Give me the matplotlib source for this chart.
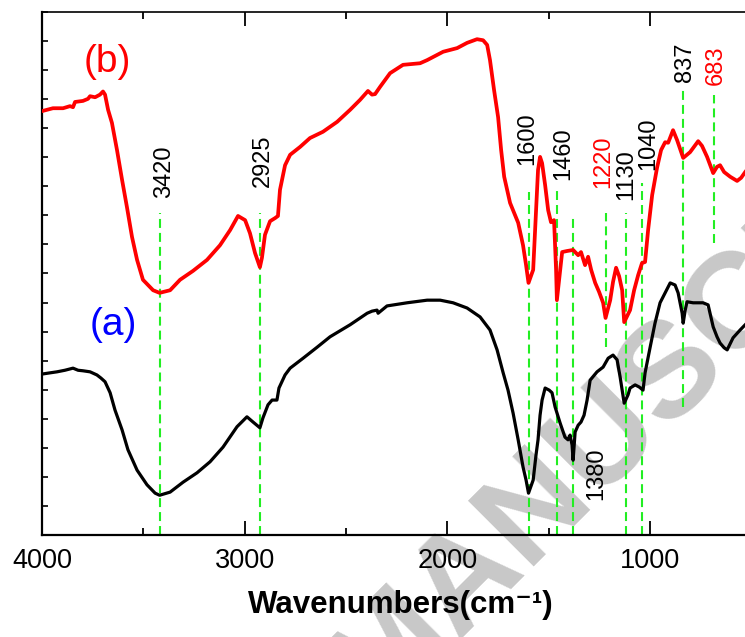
import numpy as np
import matplotlib.pyplot as plt

plt.rcParams['font.family'] = ['Liberation Sans', 'DejaVu Sans']

# spectrum (b), red
wn_b = [3995, 3946, 3896, 3862, 3847, 3837, 3798, 3773, 3763, 3738, 3714, 3699, 3689, 3674,
        3655, 3630, 3605, 3581, 3556, 3531, 3502, 3452, 3420, 3368, 3319, 3255, 3186, 3122,
        3072, 3033, 2998, 2974, 2949, 2925, 2915, 2900, 2875, 2850, 2836, 2826, 2801, 2776,
        2727, 2678, 2614, 2544, 2480, 2431, 2392, 2372, 2357, 2332, 2283, 2219, 2135, 2100,
        2021, 1952, 1903, 1854, 1824, 1804, 1790, 1770, 1750, 1735, 1720, 1691, 1651, 1627,
        1612, 1600, 1577, 1563, 1553, 1543, 1533, 1518, 1503, 1489, 1474, 1464, 1460, 1449,
        1434, 1410, 1380, 1355, 1341, 1321, 1306, 1291, 1271, 1252, 1232, 1220, 1197, 1183,
        1168, 1153, 1138, 1128, 1099, 1079, 1059, 1040, 1025, 1010, 990, 966, 946, 926, 911,
        887, 867, 847, 837, 803, 763, 744, 719, 689, 670, 655, 635, 605, 571, 551, 531]
tr_b = [81.1, 81.6, 81.6, 82.0, 81.8, 82.8, 83.0, 83.4, 83.9, 83.7, 84.2, 84.8, 84.2, 81.3,
        78.8, 73.6, 67.9, 62.7, 57.0, 52.6, 48.8, 46.8, 46.3, 46.8, 48.8, 50.5, 52.6, 55.4,
        58.3, 61.0, 60.2, 57.7, 53.9, 51.2, 53.0, 57.4, 60.0, 60.6, 61.0, 66.0, 70.7, 72.7,
        74.2, 75.9, 77.1, 79.0, 81.3, 83.2, 84.9, 84.2, 84.3, 85.7, 88.3, 89.9, 90.2, 90.8,
        92.4, 93.1, 94.1, 94.8, 94.6, 93.7, 90.8, 85.1, 79.9, 73.6, 68.5, 63.5, 59.7, 55.4,
        51.6, 48.2, 50.7, 62.1, 69.8, 72.3, 71.1, 66.9, 62.1, 59.8, 60.2, 50.7, 44.9, 48.8,
        54.1, 54.3, 54.5, 53.5, 54.1, 51.6, 53.2, 50.7, 48.2, 46.5, 44.4, 41.5, 44.9, 48.4,
        51.1, 49.5, 46.8, 40.7, 43.0, 46.8, 49.7, 52.0, 52.2, 58.3, 65.0, 70.2, 73.6, 75.1, 75.0,
        77.4, 75.5, 73.2, 72.1, 73.2, 75.3, 74.4, 72.3, 69.2, 70.4, 70.7, 69.4, 68.5, 67.7, 68.3, 69.4]

# spectrum (a), black
wn_a = [3995, 3961, 3926, 3887, 3847, 3822, 3798, 3763, 3729, 3709, 3689, 3664, 3640, 3605,
        3576, 3531, 3482, 3442, 3420, 3368, 3304, 3235, 3171, 3107, 3038, 2989, 2959, 2925,
        2910, 2885, 2865, 2841, 2831, 2801, 2776, 2712, 2643, 2579, 2480, 2396, 2372, 2347,
        2342, 2298, 2199, 2100, 2036, 1972, 1903, 1839, 1790, 1755, 1725, 1701, 1676, 1651,
        1627, 1612, 1600, 1577, 1563, 1553, 1543, 1533, 1518, 1498, 1484, 1469, 1444, 1420,
        1405, 1395, 1385, 1380, 1370, 1355, 1341, 1326, 1311, 1296, 1262, 1232, 1207, 1183,
        1163, 1148, 1138, 1128, 1109, 1099, 1074, 1054, 1035, 1025, 1000, 976, 951, 926, 901,
        877, 862, 842, 837, 827, 818, 788, 739, 714, 689, 670, 655, 635, 620, 591, 556, 531]
tr_a = [30.8, 31.0, 31.2, 31.5, 31.9, 31.5, 31.4, 31.2, 30.6, 30.0, 29.3, 27.2, 23.9, 20.1,
        16.3, 12.4, 9.6, 8.0, 7.6, 8.2, 10.1, 11.9, 14.0, 16.8, 20.7, 22.6, 21.6, 20.5,
        22.4, 24.9, 25.8, 25.8, 28.1, 30.6, 31.9, 33.8, 35.9, 37.9, 40.2, 42.4, 42.8, 43.0,
        42.4, 43.8, 44.4, 44.9, 44.9, 44.4, 43.4, 41.7, 39.2, 35.4, 31.0, 27.7, 23.3, 18.2,
        13.0, 10.5, 8.0, 10.5, 15.3, 18.2, 22.9, 25.8, 28.1, 27.7, 27.2, 24.5, 21.4, 18.7,
        18.2, 19.1, 17.2, 14.3, 19.7, 21.0, 21.6, 22.9, 25.8, 29.6, 31.2, 32.1, 33.8, 34.4,
        33.5, 30.2, 27.7, 25.2, 26.8, 28.1, 28.7, 28.3, 27.7, 31.0, 35.9, 40.5, 44.4, 46.3, 48.2,
        47.8, 46.3, 42.4, 40.5, 43.0, 44.6, 44.4, 44.4, 44.0, 39.8, 37.9, 36.7, 35.8, 35.4, 37.7, 39.2, 40.2]

# marked bands: dashed line position/top/bottom, label text, label position, label colour
peak_wn = [3420, 2925, 1600, 1460, 1380, 1220, 1120, 1040, 837, 683]
peak_top = [61.6, 61.6, 65.6, 66.0, 61.2, 61.6, 61.6, 67.3, 85.9, 84.1]
peak_bot = [0, 0, 0, 0, 0, 35.9, 0, 0, 24.5, 55.8]
label_txt = ['3420', '2925', '1600', '1460', '1380', '1220', '1130', '1040', '837', '683']
label_x = [3400, 2912, 1605, 1430, 1267, 1232, 1119, 1010, 827, 674]
label_y = [64.4, 66.5, 70.7, 67.9, 6.7, 66.3, 64.1, 69.8, 86.6, 86.0]
label_col = ['black', 'black', 'black', 'black', 'black', 'red', 'black', 'black', 'black', 'red']

fig = plt.figure(figsize=(7.45, 6.37), dpi=100)
ax = fig.add_axes([42 / 745, 102 / 637, 1 - 42 / 745, 523 / 637])
ax.set_facecolor('none')

# journal watermark
ax.text(672 / 745, 1 - 370 / 637, 'MANUSCRIPT', transform=fig.transFigure,
        fontsize=98, fontweight='bold', color='#c8c8c8', rotation=45,
        rotation_mode='anchor', ha='center', va='center', zorder=0.5)

for w, top, bot in zip(peak_wn, peak_top, peak_bot):
    ax.plot([w, w], [bot, top], color='#22ee22', lw=1.5, dashes=(4.3, 2.4), zorder=1)

ax.plot(wn_a, tr_a, color='black', lw=2.3, zorder=3)
ax.plot(wn_b, tr_b, color='red', lw=2.7, zorder=3)

for t, x, y, c in zip(label_txt, label_x, label_y, label_col):
    ax.text(x, y, t, rotation=90, ha='center', va='bottom', fontsize=17, color=c, zorder=4)

ax.text(3679, 90.4, '(b)', color='red', fontsize=28, ha='center', va='center')
ax.text(3650, 40.2, '(a)', color='blue', fontsize=28, ha='center', va='center')

ax.set_xlim(4000, 532)
ax.set_ylim(0, 100)
ax.set_xticks([4000, 3000, 2000, 1000])
ax.set_xticks([3500, 2500, 1500], minor=True)
ax.set_yticks(np.linspace(0, 100, 19))
ax.set_yticklabels([])
ax.tick_params(axis='x', which='major', direction='in', length=10, width=1.3,
               labelsize=19.5, pad=9, top=True)
ax.tick_params(axis='x', which='minor', direction='in', length=5, width=1.3, top=True)
ax.tick_params(axis='y', direction='in', length=4, width=1.2)
ax.spines['right'].set_visible(False)
for s in ['left', 'bottom']:
    ax.spines[s].set_linewidth(1.6)
ax.spines['top'].set_linewidth(1.2)

ax.set_xlabel('Wavenumbers(cm\u207b\u00b9)', fontsize=22.5, fontweight='bold')
ax.xaxis.set_label_coords(0.51, -0.105)
ax.xaxis.label.set_va('top')

fig.savefig('out.png', dpi=100)
